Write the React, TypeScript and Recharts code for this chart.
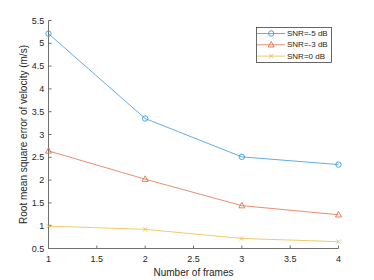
import {
  LineChart,
  Line,
  XAxis,
  YAxis,
  Legend,
} from 'recharts'

const frames = [1, 2, 3, 4]
const snrMinus5 = [5.21, 3.35, 2.51, 2.34]
const snrMinus3 = [2.64, 2.02, 1.44, 1.24]
const snr0 = [0.99, 0.92, 0.72, 0.65]

const xTicks = [1, 1.5, 2, 2.5, 3, 3.5, 4]
const yTicks = [0.5, 1, 1.5, 2, 2.5, 3, 3.5, 4, 4.5, 5, 5.5]

const seriesNames = ['SNR=-5 dB', 'SNR=-3 dB', 'SNR=0 dB']

const C = {
  blue:   '#3d97d8',
  orange: '#e0744a',
  yellow: '#eebd45',
  axis:   '#707070',
  text:   '#262626',
}

const FONT = '"Liberation Sans", Arial, Helvetica, sans-serif'

const data = frames.map((f, i) => ({
  frames: f,
  s5: snrMinus5[i],
  s3: snrMinus3[i],
  s0: snr0[i],
}))

type Shape = 'circle' | 'triangle' | 'cross'

function Marker({ cx, cy, shape, color }: { cx: number; cy: number; shape: Shape; color: string }) {
  if (cx == null || cy == null) return null
  if (shape === 'circle') {
    return <circle cx={cx} cy={cy} r={2.7} fill="none" stroke={color} strokeWidth={0.9} />
  }
  if (shape === 'triangle') {
    const pts = `${cx},${cy - 3.3} ${cx - 3},${cy + 2.2} ${cx + 3},${cy + 2.2}`
    return <polygon points={pts} fill="none" stroke={color} strokeWidth={0.9} />
  }
  const d = 2.1
  return (
    <g stroke={color} strokeWidth={0.9}>
      <line x1={cx - d} y1={cy - d} x2={cx + d} y2={cy + d} />
      <line x1={cx - d} y1={cy + d} x2={cx + d} y2={cy - d} />
    </g>
  )
}

const makeDot = (shape: Shape, color: string, name: string) => (props: any) => (
  <Marker key={`${name}-${props.index}`} cx={props.cx} cy={props.cy} shape={shape} color={color} />
)

const legendItems: { name: string; color: string; shape: Shape }[] = [
  { name: seriesNames[0], color: C.blue,   shape: 'circle' },
  { name: seriesNames[1], color: C.orange, shape: 'triangle' },
  { name: seriesNames[2], color: C.yellow, shape: 'cross' },
]

function BoxLegend() {
  const w = 75
  const h = 35
  return (
    <svg width={w + 1} height={h + 1} style={{ display: 'block' }}>
      <rect x={0.5} y={0.5} width={w} height={h} fill="#fff" stroke={C.text} strokeWidth={0.7} />
      {legendItems.map((it, i) => {
        const y = 6.5 + i * 11.3
        return (
          <g key={it.name}>
            <line x1={1} x2={29} y1={y} y2={y} stroke={it.color} strokeWidth={0.8} />
            <Marker cx={15.2} cy={y} shape={it.shape} color={it.color} />
            <text x={31} y={y} dominantBaseline="central" fontSize={8} fill={C.text} fontFamily={FONT}>
              {it.name}
            </text>
          </g>
        )
      })}
    </svg>
  )
}

const tickStyle = { fontSize: 9, fill: C.text, fontFamily: FONT }

export default function App() {
  return (
    <div style={{ position: 'absolute', left: 0, top: 0, width: 374, height: 280, background: '#fff' }}>
      <LineChart width={374} height={280} data={data} margin={{ top: 20.5, right: 35.5, bottom: 0, left: 0 }}>
        <XAxis
          xAxisId="bottom"
          dataKey="frames"
          type="number"
          domain={[1, 4]}
          ticks={xTicks}
          interval={0}
          height={31.5}
          stroke={C.axis}
          tickSize={-3}
          tickMargin={10.5}
          tick={tickStyle}
          label={{
            content: ({ viewBox }: any) => (
              <text
                x={viewBox.x + viewBox.width / 2}
                y={viewBox.y + 23.5}
                textAnchor="middle"
                dominantBaseline="central"
                fontSize={10}
                fill={C.text}
                fontFamily={FONT}
              >
                Number of frames
              </text>
            ),
          }}
        />
        <XAxis
          xAxisId="top"
          orientation="top"
          type="number"
          domain={[1, 4]}
          ticks={xTicks}
          interval={0}
          height={0}
          stroke={C.axis}
          tickSize={-3}
          tick={false}
        />
        <YAxis
          yAxisId="left"
          type="number"
          domain={[0.5, 5.5]}
          ticks={yTicks}
          interval={0}
          width={48.5}
          stroke={C.axis}
          tickSize={-3}
          tickMargin={7.2}
          tick={tickStyle}
          label={{
            content: ({ viewBox }: any) => {
              const cx = viewBox.x + 23
              const cy = viewBox.y + viewBox.height / 2
              return (
                <text
                  x={cx}
                  y={cy}
                  transform={`rotate(-90 ${cx} ${cy})`}
                  textAnchor="middle"
                  dominantBaseline="central"
                  fontSize={10}
                  fill={C.text}
                  fontFamily={FONT}
                >
                  Root mean square error of velocity (m/s)
                </text>
              )
            },
          }}
        />
        <YAxis
          yAxisId="right"
          orientation="right"
          type="number"
          domain={[0.5, 5.5]}
          ticks={yTicks}
          interval={0}
          width={0}
          stroke={C.axis}
          tickSize={-3}
          tick={false}
        />
        <Legend
          layout="horizontal"
          verticalAlign="middle"
          align="center"
          content={() => <BoxLegend />}
          wrapperStyle={{ top: 27, left: 256, width: 76, height: 36 }}
        />
        <Line
          xAxisId="bottom"
          yAxisId="left"
          dataKey="s5"
          name={seriesNames[0]}
          stroke={C.blue}
          strokeWidth={0.8}
          dot={makeDot('circle', C.blue, 's5')}
          activeDot={false}
          isAnimationActive={false}
        />
        <Line
          xAxisId="bottom"
          yAxisId="left"
          dataKey="s3"
          name={seriesNames[1]}
          stroke={C.orange}
          strokeWidth={0.8}
          dot={makeDot('triangle', C.orange, 's3')}
          activeDot={false}
          isAnimationActive={false}
        />
        <Line
          xAxisId="bottom"
          yAxisId="left"
          dataKey="s0"
          name={seriesNames[2]}
          stroke={C.yellow}
          strokeWidth={0.8}
          dot={makeDot('cross', C.yellow, 's0')}
          activeDot={false}
          isAnimationActive={false}
        />
      </LineChart>
    </div>
  )
}
